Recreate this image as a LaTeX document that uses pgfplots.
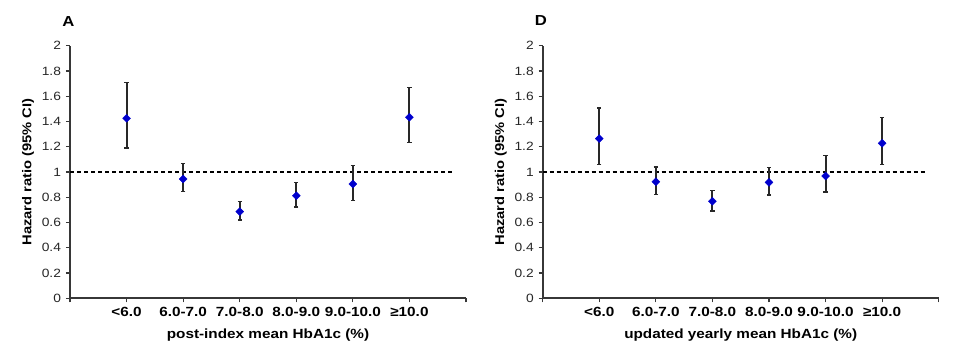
\documentclass[border=0pt]{standalone}
\usepackage{pgfplots}
\pgfplotsset{compat=1.18}
\usepackage{pgfplotstable}
\usepackage{fontspec}
\setmainfont[FakeStretch=1.15]{Liberation Sans}

\definecolor{ptblue}{RGB}{0,0,205}
\definecolor{axgray}{RGB}{55,55,55}
\definecolor{ebgray}{RGB}{40,40,40}

\pgfplotstableread{
x y ep em
1 1.425 0.285 0.235
2 0.945 0.121 0.098
3 0.686 0.082 0.066
4 0.812 0.103 0.089
5 0.905 0.148 0.129
6 1.433 0.235 0.198
}\dataA

\pgfplotstableread{
x y ep em
1 1.264 0.243 0.203
2 0.923 0.117 0.100
3 0.768 0.084 0.077
4 0.918 0.116 0.100
5 0.968 0.164 0.126
6 1.227 0.206 0.166
}\dataD

\pgfplotsset{
  hrstyle/.style={
    scale only axis,
    width=396bp, height=252.6bp,
    xmin=0, xmax=7, ymin=0, ymax=2,
    axis x line*=bottom, axis y line*=left,
    axis line style={axgray, line width=1.8bp},
    every tick/.style={axgray, line width=1.2bp},
    tick align=outside,
    major tick length=4bp,
    xtick={0,1,2,3,4,5,6,7},
    xticklabels={,{<6.0},{6.0-7.0},{7.0-8.0},{8.0-9.0},{9.0-10.0},{≥10.0},},
    ytick={0,0.2,0.4,0.6,0.8,1,1.2,1.4,1.6,1.8,2},
    yticklabels={0,0.2,0.4,0.6,0.8,1,1.2,1.4,1.6,1.8,2},
    /pgf/number format/assume math mode=true,
    yticklabel style={font=\fontsize{12bp}{13bp}\selectfont, text=black!85, xshift=-1.5bp},
    xticklabel style={font=\fontsize{13.3bp}{15bp}\selectfont\bfseries, text=black, yshift=-1bp},
    every axis y label/.style={at={(axis description cs:-0.106,0.5)}, anchor=center, rotate=90, font=\fontsize{12.8bp}{14bp}\selectfont\bfseries},
    every axis x label/.style={at={(axis description cs:0.5,-0.145)}, anchor=center, font=\fontsize{13.3bp}{15bp}\selectfont\bfseries},
    ylabel={Hazard ratio (95\% CI)},
    clip=false,
  },
  hrplot/.style={
    only marks,
    mark=square*,
    mark size=2.8bp,
    mark options={rotate=45, ptblue, draw=ptblue},
    error bars/.cd,
      y dir=both, y explicit,
      error bar style={ebgray, line width=1.9bp},
      error mark options={rotate=90, ebgray, mark size=2.2bp, line width=1.5bp},
  },
}

\begin{document}
\begin{tikzpicture}
\path[use as bounding box] (0,0) rectangle (956bp,357bp);

\begin{axis}[hrstyle, at={(70bp,58.7bp)}, anchor=south west,
  xlabel={post-index mean HbA1c (\%)}]
  \addplot[black, line width=1.3bp, dash pattern=on 4bp off 3bp] coordinates {(0,1) (6.8,1)};
  \addplot[hrplot] table[x=x, y=y, y error plus=ep, y error minus=em] {\dataA};
\end{axis}

\begin{axis}[hrstyle, at={(542.7bp,58.7bp)}, anchor=south west,
  xlabel={updated yearly mean HbA1c (\%)}]
  \addplot[black, line width=1.3bp, dash pattern=on 4bp off 3bp] coordinates {(0,1) (6.8,1)};
  \addplot[hrplot] table[x=x, y=y, y error plus=ep, y error minus=em] {\dataD};
\end{axis}

\node[font=\fontsize{14.5bp}{16bp}\selectfont\bfseries, anchor=center] at (68.5bp,335bp) {A};
\node[font=\fontsize{14.5bp}{16bp}\selectfont\bfseries, anchor=center] at (541bp,336bp) {D};
\end{tikzpicture}
\end{document}
